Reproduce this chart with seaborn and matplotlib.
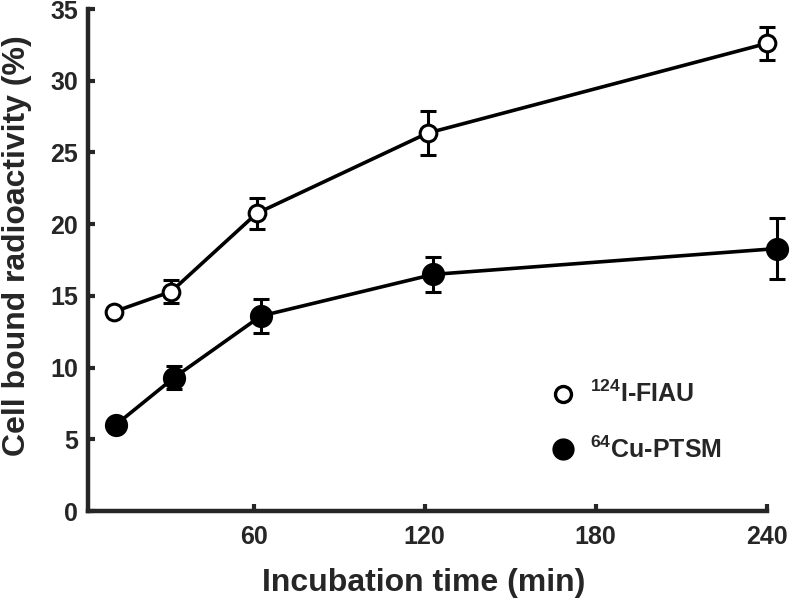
import matplotlib
matplotlib.use("Agg")
import matplotlib.pyplot as plt
from matplotlib.lines import Line2D
import seaborn as sns
import pandas as pd

# Data
fiau_time = [11, 31, 61, 121, 240]
fiau_mean = [13.9, 15.3, 20.75, 26.35, 32.6]
fiau_err = [0.0, 0.8, 1.05, 1.55, 1.15]

ptsm_time = [11.5, 32, 62.5, 123, 243.5]
ptsm_mean = [6.0, 9.3, 13.6, 16.5, 18.3]
ptsm_err = [0.0, 0.8, 1.2, 1.2, 2.15]

series_labels = [r"$^{\mathbf{124}}$I-FIAU", r"$^{\mathbf{64}}$Cu-PTSM"]
x_ticks = [60, 120, 180, 240]
y_ticks = [0, 5, 10, 15, 20, 25, 30, 35]

sns.set_style("ticks")
plt.rcParams["font.family"] = ["Liberation Sans", "DejaVu Sans"]
plt.rcParams["font.weight"] = "bold"
plt.rcParams["mathtext.fontset"] = "custom"
plt.rcParams["mathtext.rm"] = "Liberation Sans:bold"
plt.rcParams["mathtext.bf"] = "Liberation Sans:bold"

fig = plt.figure(figsize=(7.92, 6.02), dpi=100)
ax = fig.add_axes([0.111, 0.151, 0.857, 0.834])

df_f = pd.DataFrame({"t": fiau_time, "v": fiau_mean})
df_p = pd.DataFrame({"t": ptsm_time, "v": ptsm_mean})

for df, err, face, ms in [(df_f, fiau_err, "white", 12), (df_p, ptsm_err, "black", 14.5)]:
    ax.errorbar(df["t"], df["v"], yerr=err, fmt="none", ecolor="black",
                elinewidth=2.2, capsize=5.5, capthick=2.2, clip_on=False, zorder=2)
    sns.lineplot(data=df, x="t", y="v", ax=ax, color="black", linewidth=2.6,
                 marker="o", markersize=ms, markerfacecolor=face,
                 markeredgecolor="black", markeredgewidth=2.2, clip_on=False, zorder=3)

ax.set_xlim(1.8, 240)
ax.set_ylim(0, 35)
ax.set_xticks(x_ticks)
ax.set_yticks(y_ticks)
ax.tick_params(direction="in", length=5, width=3, labelsize=18)
ax.tick_params(axis="x", pad=10)
ax.tick_params(axis="y", pad=7)
for lab in ax.get_xticklabels() + ax.get_yticklabels():
    lab.set_fontweight("bold")
sns.despine(ax=ax)
for s in ["left", "bottom"]:
    ax.spines[s].set_linewidth(3.2)

ax.set_xlabel("Incubation time (min)", fontsize=23, fontweight="bold")
ax.set_ylabel("Cell bound radioactivity (%)", fontsize=23, fontweight="bold")
ax.xaxis.set_label_coords(0.495, -0.113)
ax.yaxis.set_label_coords(-0.082, 0.528)

handles = [
    Line2D([], [], linestyle="none", marker="o", markersize=11.5, markerfacecolor="white",
           markeredgecolor="black", markeredgewidth=2.4),
    Line2D([], [], linestyle="none", marker="o", markersize=15, markerfacecolor="black",
           markeredgecolor="black"),
]
leg = ax.legend(handles, series_labels, frameon=False, loc="upper left",
                bbox_to_anchor=(0.648, 0.304), prop={"size": 18, "weight": "bold"},
                labelspacing=1.15, handletextpad=0.6, handlelength=1.0)

fig.savefig("out.png", dpi=100)
